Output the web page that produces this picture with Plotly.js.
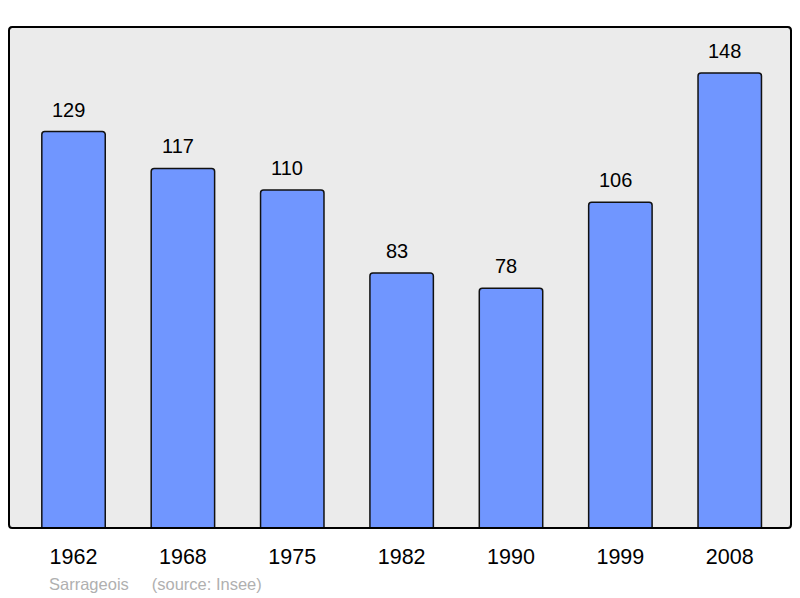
<!DOCTYPE html>
<html><head><meta charset="utf-8">
<script src="https://cdn.plot.ly/plotly-3.0.1.min.js"></script>
<style>html,body{margin:0;padding:0;background:#fff}#c{width:800px;height:598px}</style>
</head><body><div id="c"></div>
<script>
const years = ["1962","1968","1975","1982","1990","1999","2008"];
const population = [129,117,110,83,78,106,148];
const commune = "Sarrageois";
const source = "(source: Insee)";

const trace = {
  type: "bar", x: years, y: population, width: 0.58,
  marker: {color: "#7096ff", line: {color: "#111", width: 1.5}, cornerradius: 3},
  hoverinfo: "none"
};
const font = "Liberation Sans, Arial, sans-serif";
const annotations = years.map((yr, i) => ({
  x: i, y: population[i], xref: "x", yref: "y", text: String(population[i]),
  showarrow: false, yanchor: "bottom", yshift: 9, xshift: -5,
  font: {family: font, size: 20, color: "#000"}
}));
annotations.push({
  xref: "paper", yref: "paper", x: 0.048, y: -0.09, xanchor: "left", yanchor: "top",
  text: commune + "\u00a0\u00a0\u00a0\u00a0\u00a0" + source, showarrow: false,
  font: {family: font, size: 16.5, color: "#b0b0b0"}
});
const layout = {
  width: 800, height: 598,
  margin: {l: 9, r: 9, t: 27, b: 70},
  paper_bgcolor: "#fff", plot_bgcolor: "#ebebeb",
  showlegend: false,
  xaxis: {type: "category", range: [-0.59, 6.56], showgrid: false, zeroline: false,
    ticks: "outside", ticklen: 9, tickcolor: "rgba(0,0,0,0)",
    tickfont: {family: font, size: 21.5, color: "#000"}},
  yaxis: {range: [0, 163], showgrid: false, zeroline: false, showticklabels: false},
  shapes: [{type: "path", xref: "paper", yref: "paper",
    path: "M 0.004 0 L 0.996 0 Q 1 0 1 0.007 L 1 0.993 Q 1 1 0.996 1 L 0.004 1 Q 0 1 0 0.993 L 0 0.007 Q 0 0 0.004 0 Z",
    line: {color: "#000", width: 2}, layer: "above"}],
  annotations: annotations
};
Plotly.newPlot("c", [trace], layout, {staticPlot: true});
</script></body></html>
